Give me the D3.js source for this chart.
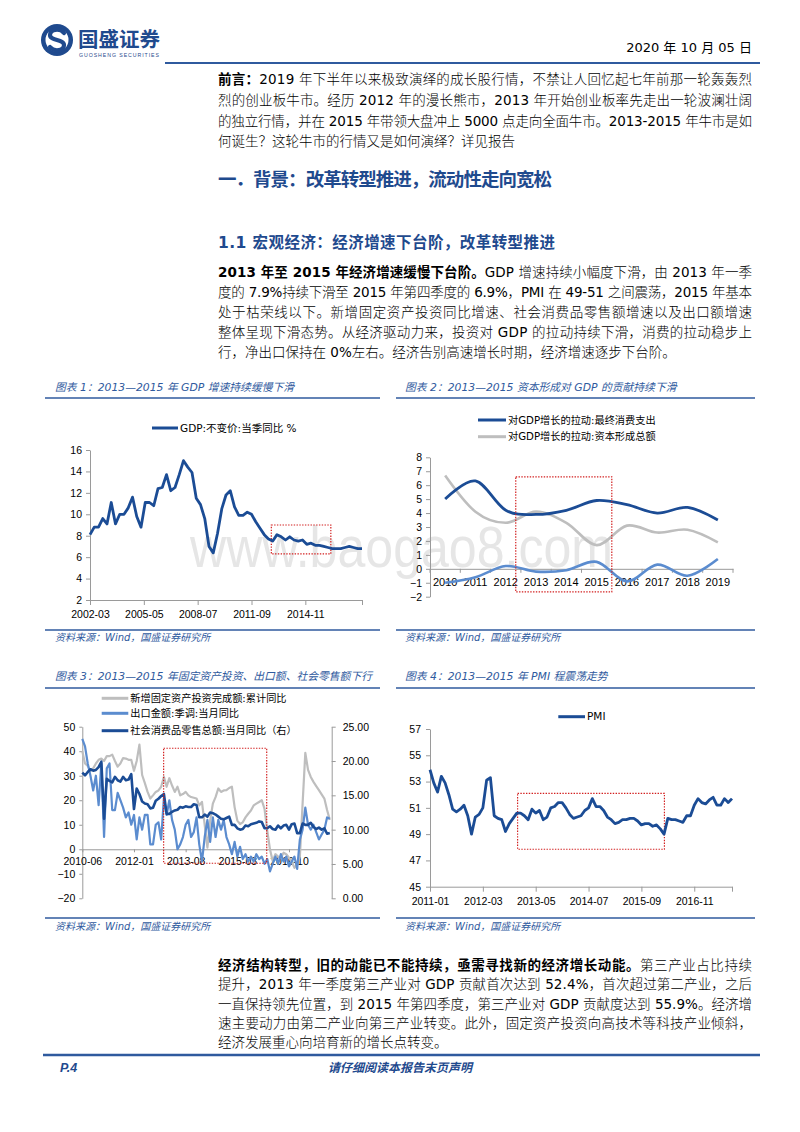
<!DOCTYPE html>
<html><head><meta charset="utf-8">
<script src="https://cdn.jsdelivr.net/npm/d3@7"></script>
<style>body{margin:0;background:#fff}svg{display:block}</style>
</head><body>
<svg id="page" width="800" height="1132"></svg>
<script>
// ---------------- DATA ----------------
// Chart 1: GDP quarterly yoy, 2002-03 .. 2018-03 (month offsets 0,3,6,...)
const gdpTickLabels = ["2002-03","2005-05","2008-07","2011-09","2014-11"];
const gdpValues = [8.1,8.8,8.8,9.6,9.1,11.1,9.1,10.0,10.0,10.6,11.6,9.8,8.8,11.1,11.1,10.8,12.4,12.5,13.7,12.2,12.5,13.7,15.0,14.4,13.9,11.5,10.9,9.6,7.0,6.4,8.2,10.5,11.8,12.2,10.7,9.9,9.9,10.2,10.0,9.3,8.7,8.1,7.7,7.5,8.1,7.9,7.6,7.9,7.6,7.5,7.6,7.2,7.3,7.1,7.1,7.0,6.9,6.8,6.8,6.8,6.9,7.0,6.9,6.8,6.8];
const gdpLegend = "GDP:不变价:当季同比 %";

// Chart 2: contributions to GDP growth
const c2Years = ["2010","2011","2012","2013","2014","2015","2016","2017","2018","2019"];
const c2Consumption = [5.0,6.3,4.2,3.9,4.2,4.9,4.6,4.0,4.4,3.5];
const c2Capital = [6.7,4.1,3.3,4.1,3.3,1.7,3.1,2.6,2.8,1.9];
const c2NetExport = [-1.0,-0.6,0.2,-0.2,-0.1,0.5,-0.9,0.3,-0.5,0.7];
const c2Legend = ["对GDP增长的拉动:最终消费支出","对GDP增长的拉动:资本形成总额"];

// Chart 3: monthly from 2010-06
const c3TickLabels = ["2010-06","2012-01","2013-08","2015-03","2016-10"];
const c3FAI = [40,35,34,32,33,35,36.5,37,36,38,38,38.6,36,33.7,35,37.2,37,36.5,36.5,32,36,42.7,30.3,27,23.4,20.7,22,23.4,24,25.5,29.6,25.5,29,26,23.4,25.5,22,22.5,23.4,22,21.3,21,20.7,17.9,19.3,10,0.7,11.7,18.6,21.3,24.8,23.4,24,24.1,25,25.5,17.2,11.7,10.3,11,13,14.5,15.8,17.9,18.6,19.3,20,16.5,7.6,0,-4.8,-2,-3,-3.4,-1.4,-2,-3.4,-5,-7.6,-6.2,-3,18.6,39.3,32.4,29.5,27.5,25.8,24.1,22.4,20.7,16,12];
const c3Export = [45,42,35,30,24,30,18,35,5,33,35,16,16,23,20,17,13,15,10,14,4,13,8,14,14,2,2,10,11,4,21,14,20,12,8,0,2,5,10,12,5,7,13,2,-5,5,12,3,13,5,12,8,12,5,2,-2,3,-3,1,-4,-2,-5,-3,-5,-2,-4,-3,-6,-4,-9,-6,-3,-6,-2,-5,-3,-7,-5,-3,-8,4,8,17,10,8,10,7,4,6,8,13,12.5];
const c3Retail = [18.3,17.9,18.4,18.8,18.6,18.7,19.1,19.9,11.6,17.4,17.1,16.9,17.7,17.2,17.0,17.7,17.2,17.3,18.1,13.0,16.0,15.2,14.1,13.8,13.7,13.1,13.2,14.2,14.5,14.9,15.2,12.3,12.3,12.6,12.8,12.9,13.3,13.2,13.4,13.3,13.3,13.7,13.6,11.8,11.8,12.2,11.9,12.5,12.4,12.2,11.9,11.6,11.5,11.7,11.9,10.7,10.7,10.2,10.0,10.1,10.6,10.5,10.8,10.9,11.0,11.2,11.1,10.2,10.2,10.5,10.1,10.0,10.6,10.2,10.6,10.7,10.0,10.8,10.9,9.5,9.5,10.9,10.7,10.7,11.0,10.4,10.1,10.3,10.0,10.2,9.4,9.5];
const c3Legend = ["新增固定资产投资完成额:累计同比","出口金额:季调:当月同比","社会消费品零售总额:当月同比（右）"];

// Chart 4: PMI monthly
const pmiTickLabels = ["2011-01","2012-03","2013-05","2014-07","2015-09","2016-11"];
const pmiValues = [53.9,52.9,52.2,53.4,52.9,52.0,50.9,50.7,50.9,51.2,50.4,49.0,50.3,50.5,51.0,53.1,53.3,50.4,50.2,50.1,49.2,49.8,50.2,50.6,50.6,50.4,50.1,50.9,50.6,50.8,50.1,50.3,51.0,51.1,51.4,51.4,51.0,50.5,50.2,50.3,50.4,50.8,51.0,51.7,51.1,51.1,50.8,50.3,50.1,49.8,49.9,50.1,50.1,50.2,50.2,50.0,49.7,49.8,49.8,49.6,49.7,49.4,49.0,50.2,50.1,50.1,50.0,49.9,50.4,50.4,51.2,51.7,51.4,51.3,51.6,51.8,51.2,51.2,51.7,51.4,51.7];

// highlight boxes (data units)
const c1Box = {x0:128, x1:170, y0:9.0, y1:6.3};
const c2Box = {y0:6.6, y1:-1.65};
const c3Box = {x0:29.9, x1:67.8, y0:41.2, y1:-5.7};
const c4Box = {x0:23.2, x1:62.1, y0:52.1, y1:47.85};

// ---------------- STYLE ----------------
const BLUE = "#1F4A8E";
const LINEBLUE = "#2F5A9E";
const DARK = "#1B4C95";
const LIGHT = "#5B8CCF";
const GRAY = "#BEBEBE";
const RED = "#D21F1F";
const BODY = "'DejaVu Sans','Noto Sans CJK SC',sans-serif";
const CJK = "'Noto Sans CJK SC','DejaVu Sans',sans-serif";
const TICK = "'Liberation Sans',Arial,sans-serif";
const AXIS = "#9A9A9A";

const svg = d3.select("#page");

// ---------------- HEADER ----------------
const logo = svg.append("g");
logo.append("circle").attr("cx",57).attr("cy",40).attr("r",16).attr("fill",BLUE);
logo.append("circle").attr("cx",57).attr("cy",40).attr("r",11.5).attr("fill","#fff");
logo.append("path").attr("d","M64,33 C60,28 50,29 50,35 C50,41 64,39 64,45 C64,51 54,52 50,47")
  .attr("fill","none").attr("stroke",BLUE).attr("stroke-width",4.2).attr("stroke-linecap","round");
svg.append("text").attr("x",78).attr("y",47).attr("font-family",CJK).attr("font-weight","bold")
  .attr("font-size",20.5).attr("fill",BLUE).attr("textLength",82).text("国盛证券");
svg.append("text").attr("x",79).attr("y",56.5).attr("font-family",TICK).attr("font-size",5.2)
  .attr("fill",BLUE).attr("textLength",80).attr("lengthAdjust","spacing").text("GUOSHENG SECURITIES");
svg.append("text").attr("x",752).attr("y",52).attr("text-anchor","end").attr("font-family",BODY)
  .attr("font-size",13).attr("fill","#000").text("2020 年 10 月 05 日");
svg.append("line").attr("x1",165).attr("x2",760).attr("y1",63).attr("y2",63).attr("stroke",LINEBLUE).attr("stroke-width",2);

// ---------------- TEXT HELPERS ----------------
function textLine(x, y, parts, o={}) {
  const t = svg.append("text").attr("x",x).attr("y",y).attr("font-family",o.font||BODY)
    .attr("font-size",o.size||13.5).attr("fill",o.fill||"#000");
  if (o.width) t.attr("textLength",o.width).attr("lengthAdjust","spacing");
  if (o.italic) t.attr("font-style","italic");
  if (o.anchor) t.attr("text-anchor",o.anchor);
  parts.forEach(p => {
    if (p[1] || !o.light) {
      t.append("tspan").text(p[0]).attr("font-weight", p[1] ? "bold" : "normal");
    } else {
      // latin runs regular, CJK runs light
      const runs = p[0].match(/[\u0000-\u024F]+|[^\u0000-\u024F]+/g) || [];
      runs.forEach(r => {
        const latin = /^[\u0000-\u024F]+$/.test(r);
        t.append("tspan").text(r).attr("font-weight", latin ? "normal" : 300);
      });
    }
  });
  return t;
}
const LW = 534;
const intro = [
  [["前言：",1],["2019 年下半年以来极致演绎的成长股行情，不禁让人回忆起七年前那一轮轰轰烈",0]],
  [["烈的创业板牛市。经历 2012 年的漫长熊市，2013 年开始创业板率先走出一轮波澜壮阔",0]],
  [["的独立行情，并在 2015 年带领大盘冲上 5000 点走向全面牛市。2013-2015 年牛市是如",0]],
  [["何诞生？这轮牛市的行情又是如何演绎？详见报告",0]]
];
intro.forEach((l,i)=> textLine(218, 84+i*20.8, l, {width: i<3?LW:null, light:true}));

textLine(218, 186, [["一．背景：改革转型推进，流动性走向宽松",1]], {size:18.5, fill:BLUE, font:CJK, width:334});
textLine(218, 248, [["1.1 ",1],["宏观经济：经济增速下台阶，改革转型推进",1]], {size:15.5, fill:BLUE, width:337});

const para1 = [
  [["2013 年至 2015 年经济增速缓慢下台阶。",1],["GDP 增速持续小幅度下滑，由 2013 年一季",0]],
  [["度的 7.9%持续下滑至 2015 年第四季度的 6.9%，PMI 在 49-51 之间震荡，2015 年基本",0]],
  [["处于枯荣线以下。新增固定资产投资同比增速、社会消费品零售额增速以及出口额增速",0]],
  [["整体呈现下滑态势。从经济驱动力来，投资对 GDP 的拉动持续下滑，消费的拉动稳步上",0]],
  [["行，净出口保持在 0%左右。经济告别高速增长时期，经济增速逐步下台阶。",0]]
];
para1.forEach((l,i)=> textLine(218, 277+i*20, l, {width: i<4?LW:null, light:true}));

const para2 = [
  [["经济结构转型，旧的动能已不能持续，亟需寻找新的经济增长动能。",1],["第三产业占比持续",0]],
  [["提升，2013 年一季度第三产业对 GDP 贡献首次达到 52.4%，首次超过第二产业，之后",0]],
  [["一直保持领先位置，到 2015 年第四季度，第三产业对 GDP 贡献度达到 55.9%。经济增",0]],
  [["速主要动力由第二产业向第三产业转变。此外，固定资产投资向高技术等科技产业倾斜，",0]],
  [["经济发展重心向培育新的增长点转变。",0]]
];
para2.forEach((l,i)=> textLine(218, 970+i*19.3, l, {width: i<4?LW:null, light:true}));

// footer
svg.append("line").attr("x1",43).attr("x2",760).attr("y1",1055).attr("y2",1055).attr("stroke",LINEBLUE).attr("stroke-width",2.5);
textLine(60, 1072, [["P.4",1]], {size:12.5, fill:BLUE, italic:true, font:TICK});
textLine(400, 1072, [["请仔细阅读本报告末页声明",1]], {size:12, fill:BLUE, italic:true, font:CJK, anchor:"middle"});

// ---------------- CHART FRAMES ----------------
function frame(x0, x1, yTop, yBot, title, srcY, titleY, tx) {
  textLine(tx, titleY, [[title,0]], {size:10.8, fill:LINEBLUE, italic:true, font:BODY});
  svg.append("line").attr("x1",x0).attr("x2",x1).attr("y1",yTop).attr("y2",yTop).attr("stroke",LINEBLUE).attr("stroke-width",1.6);
  svg.append("line").attr("x1",x0).attr("x2",x1).attr("y1",yBot).attr("y2",yBot).attr("stroke",LINEBLUE).attr("stroke-width",1.6);
  textLine(tx, srcY, [["资料来源：Wind，国盛证券研究所",0]], {size:10, fill:LINEBLUE, italic:true, font:BODY});
}
frame(45,380,398,630,"图表 1：2013—2015 年 GDP 增速持续缓慢下滑",641,391,55);
frame(396,755,398,630,"图表 2：2013—2015 资本形成对 GDP 的贡献持续下滑",641,391,405);
frame(45,380,688,918,"图表 3：2013—2015 年固定资产投资、出口额、社会零售额下行",930,680,55);
frame(396,755,688,918,"图表 4：2013—2015 年 PMI 程震荡走势",930,680,405);

// watermark
svg.append("text").attr("x",190).attr("y",567).attr("font-family",TICK).attr("font-size",58)
  .attr("fill","#e6e6e6").attr("textLength",423).attr("lengthAdjust","spacingAndGlyphs").text("www.baogao8.com");

function styleAxis(g){
  g.selectAll("path,line").attr("stroke",AXIS).attr("stroke-width",1);
  g.selectAll("text").attr("font-family",TICK).attr("font-size",10.5).attr("fill","#000");
}
function legendItem(x1,x2,y,color,w,label,size){
  svg.append("line").attr("x1",x1).attr("x2",x2).attr("y1",y).attr("y2",y).attr("stroke",color).attr("stroke-width",w);
  svg.append("text").attr("x",x2+2).attr("y",y+3.6).attr("font-family",BODY).attr("font-size",size||10.2).attr("fill","#000").text(label);
}
function box(x0,x1,y0,y1){
  svg.append("rect").attr("x",x0).attr("y",y0).attr("width",x1-x0).attr("height",y1-y0)
    .attr("fill","none").attr("stroke",RED).attr("stroke-width",1.2).attr("stroke-dasharray","1.4 1.4");
}

// ---------------- CHART 1 ----------------
{
  const x = d3.scaleLinear().domain([0,192]).range([90,362]);
  const y = d3.scaleLinear().domain([2,16]).range([600,450]);
  const gy = svg.append("g").attr("transform","translate(90,0)")
    .call(d3.axisLeft(y).tickValues(d3.range(2,17,2)).tickSize(4).tickSizeOuter(0).tickPadding(4));
  styleAxis(gy);
  const tv = [0,38,76,114,152,192];
  const gx = svg.append("g").attr("transform","translate(0,600)")
    .call(d3.axisBottom(x).tickValues(tv).tickFormat((d,i)=>gdpTickLabels[i]||"").tickSize(5).tickSizeOuter(0).tickPadding(6));
  styleAxis(gx);
  box(x(c1Box.x0),x(c1Box.x1),y(c1Box.y0),y(c1Box.y1));
  svg.append("path").datum(gdpValues)
    .attr("d", d3.line().x((d,i)=>x(i*3)).y(d=>y(d)).curve(d3.curveLinear))
    .attr("fill","none").attr("stroke",DARK).attr("stroke-width",2.8).attr("stroke-linejoin","round");
  legendItem(152,178,428,DARK,3,gdpLegend,10.5);
}

// ---------------- CHART 2 ----------------
{
  const x = d3.scaleBand().domain(c2Years).range([430,733]);
  const y = d3.scaleLinear().domain([-2,8]).range([596.7,457.3]);
  const gy = svg.append("g").attr("transform","translate(430,0)")
    .call(d3.axisLeft(y).tickValues(d3.range(-2,9,1)).tickSize(4).tickSizeOuter(0).tickPadding(4));
  styleAxis(gy);
  const y0 = y(0);
  const gx = svg.append("g").attr("transform",`translate(0,${y0})`)
    .call(d3.axisBottom(x).tickSize(0).tickSizeOuter(0).tickPadding(9));
  styleAxis(gx);
  gx.selectAll("text").attr("font-size",11);
  const edges = c2Years.map(d=>x(d)).concat([x.range()[1]]);
  svg.selectAll(null).data(edges).enter().append("line")
    .attr("x1",d=>d).attr("x2",d=>d).attr("y1",y0).attr("y2",y0+4).attr("stroke",AXIS);
  const cx = d => x(d)+x.bandwidth()/2;
  const line = vals => d3.line().x((d,i)=>cx(c2Years[i])).y(d=>y(d)).curve(d3.curveCardinal.tension(0))(vals);
  svg.append("path").attr("d",line(c2Capital)).attr("fill","none").attr("stroke",GRAY).attr("stroke-width",2.6);
  svg.append("path").attr("d",line(c2NetExport)).attr("fill","none").attr("stroke",LIGHT).attr("stroke-width",2.6);
  svg.append("path").attr("d",line(c2Consumption)).attr("fill","none").attr("stroke",DARK).attr("stroke-width",2.8);
  box(x("2012")+x.bandwidth()*0.83, x("2015")+x.bandwidth(), y(c2Box.y0), y(c2Box.y1));
  legendItem(478,506,420,DARK,3,c2Legend[0]);
  legendItem(478,506,436.7,GRAY,3,c2Legend[1]);
}

// ---------------- CHART 3 ----------------
{
  const x = d3.scaleLinear().domain([0,91.7]).range([82.3,331.7]);
  const yL = d3.scaleLinear().domain([-20,50]).range([898.3,726.7]);
  const yR = d3.scaleLinear().domain([0,25]).range([898.3,726.7]);
  const gl = svg.append("g").attr("transform","translate(82.3,0)")
    .call(d3.axisLeft(yL).tickValues(d3.range(-20,51,10)).tickSize(3).tickSizeOuter(0).tickPadding(4));
  styleAxis(gl);
  const gr = svg.append("g").attr("transform","translate(331.7,0)")
    .call(d3.axisRight(yR).tickValues(d3.range(0,26,5)).tickFormat(d3.format(".2f")).tickSize(4).tickSizeOuter(0).tickPadding(7));
  styleAxis(gr);
  const gx = svg.append("g").attr("transform",`translate(0,${yL(0)})`)
    .call(d3.axisBottom(x).tickValues([0,19,38,57,76]).tickFormat((d,i)=>c3TickLabels[i]).tickSize(3).tickSizeOuter(0).tickPadding(5));
  styleAxis(gx);
  const l = (vals, ys) => d3.line().x((d,i)=>x(i)).y(d=>ys(d))(vals);
  svg.append("path").attr("d",l(c3FAI,yL)).attr("fill","none").attr("stroke",GRAY).attr("stroke-width",2.2).attr("stroke-linejoin","round");
  svg.append("path").attr("d",l(c3Export,yL)).attr("fill","none").attr("stroke",LIGHT).attr("stroke-width",2.2).attr("stroke-linejoin","round");
  svg.append("path").attr("d",l(c3Retail,yR)).attr("fill","none").attr("stroke",DARK).attr("stroke-width",2.6).attr("stroke-linejoin","round");
  box(x(c3Box.x0),x(c3Box.x1),yL(c3Box.y0),yL(c3Box.y1));
  legendItem(101.7,128.3,698.3,GRAY,3,c3Legend[0]);
  legendItem(101.7,128.3,713.3,LIGHT,3,c3Legend[1]);
  legendItem(101.7,128.3,730.7,DARK,3,c3Legend[2]);
}

// ---------------- CHART 4 ----------------
{
  const x = d3.scaleLinear().domain([0,80]).range([430,732]);
  const y = d3.scaleLinear().domain([45,57]).range([886.7,729]);
  const gy = svg.append("g").attr("transform","translate(430,0)")
    .call(d3.axisLeft(y).tickValues(d3.range(45,58,2)).tickSize(4).tickSizeOuter(0).tickPadding(5));
  styleAxis(gy);
  const gx = svg.append("g").attr("transform","translate(0,886.7)")
    .call(d3.axisBottom(x).tickValues([0,14,28,42,56,70,80]).tickFormat((d,i)=>pmiTickLabels[i]||"").tickSize(5).tickSizeOuter(0).tickPadding(6));
  styleAxis(gx);
  box(x(c4Box.x0),x(c4Box.x1),y(c4Box.y0),y(c4Box.y1));
  svg.append("path").datum(pmiValues).attr("d",d3.line().x((d,i)=>x(i)).y(d=>y(d)))
    .attr("fill","none").attr("stroke",DARK).attr("stroke-width",2.8).attr("stroke-linejoin","round");
  legendItem(558.3,585,716.7,DARK,3,"PMI",10.5);
}
</script>
</body></html>
